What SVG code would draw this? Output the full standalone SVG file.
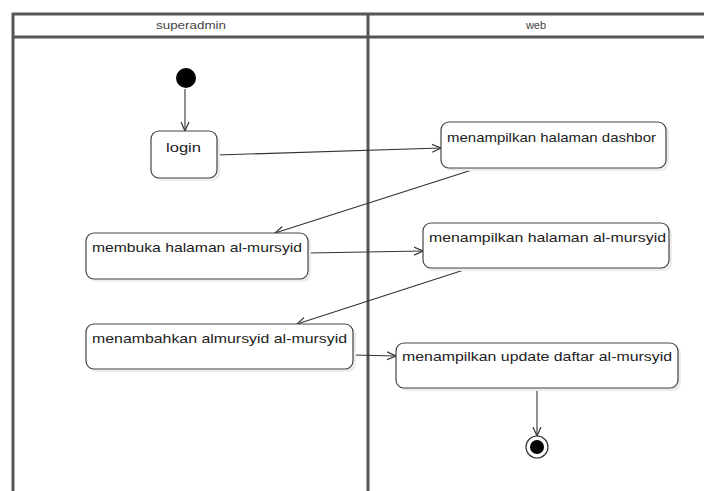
<svg xmlns="http://www.w3.org/2000/svg" width="704" height="491" viewBox="0 0 704 491">
<style>
.lane{stroke:#555;stroke-width:3;fill:none}
.box{fill:#fff;stroke:#444;stroke-width:1.2}
.shadow{fill:#ececec;stroke:none}
.t{font-family:"Liberation Sans",Arial,sans-serif;font-size:13px;fill:#222}
.h{font-family:"Liberation Sans",Arial,sans-serif;font-size:11px;fill:#444;text-anchor:middle}
.c{stroke:#333;stroke-width:1.1;fill:none;marker-end:url(#arr)}
</style>
<defs>
<marker id="arr" viewBox="0 0 10 10" refX="9" refY="5" markerWidth="10" markerHeight="10" markerUnits="userSpaceOnUse" orient="auto">
<path d="M0,1 L9,5 L0,9" fill="none" stroke="#333" stroke-width="1.2"/>
</marker>
</defs>
<rect width="704" height="491" fill="#fff"/>
<g id="swimlanes">
<path class="lane" d="M706,14 H13 V491"/>
<path class="lane" d="M13,37 H706"/>
<path class="lane" d="M368,13 V491"/>
<text class="h" x="191" y="29" textLength="70" lengthAdjust="spacingAndGlyphs">superadmin</text>
<text class="h" x="536" y="29">web</text>
</g>
<g id="connectors">
<path class="c" d="M185,89 L185,131"/>
<path class="c" d="M217,155 L441,148"/>
<path class="c" d="M475,169 L275,233"/>
<path class="c" d="M308,253 L423,251"/>
<path class="c" d="M470,268 L297,324"/>
<path class="c" d="M353,355 L396,356"/>
<path class="c" d="M537,388 L537,436"/>
</g>
<g id="start">
<circle cx="186" cy="78" r="10" fill="#000"/>
</g>
<g id="login">
<rect class="shadow" x="154" y="134" width="66" height="47" rx="8"/>
<rect class="box" x="151" y="131" width="66" height="47" rx="8"/>
<text class="t" x="166" y="152" textLength="35" lengthAdjust="spacingAndGlyphs">login</text>
</g>
<g id="dashbor">
<rect class="shadow" x="444" y="125" width="225" height="46" rx="8"/>
<rect class="box" x="441" y="122" width="225" height="46" rx="8"/>
<text class="t" x="447" y="142" textLength="209" lengthAdjust="spacingAndGlyphs">menampilkan halaman dashbor</text>
</g>
<g id="membuka">
<rect class="shadow" x="89" y="236" width="222" height="46" rx="8"/>
<rect class="box" x="86" y="233" width="222" height="46" rx="8"/>
<text class="t" x="92" y="252" textLength="210" lengthAdjust="spacingAndGlyphs">membuka halaman al-mursyid</text>
</g>
<g id="tampil-mursyid">
<rect class="shadow" x="426" y="226" width="246" height="45" rx="8"/>
<rect class="box" x="423" y="223" width="246" height="45" rx="8"/>
<text class="t" x="429" y="242" textLength="237" lengthAdjust="spacingAndGlyphs">menampilkan halaman al-mursyid</text>
</g>
<g id="menambahkan">
<rect class="shadow" x="89" y="327" width="267" height="45" rx="8"/>
<rect class="box" x="86" y="324" width="267" height="45" rx="8"/>
<text class="t" x="92" y="343" textLength="255" lengthAdjust="spacingAndGlyphs">menambahkan almursyid al-mursyid</text>
</g>
<g id="update">
<rect class="shadow" x="399" y="346" width="282" height="45" rx="8"/>
<rect class="box" x="396" y="343" width="282" height="45" rx="8"/>
<text class="t" x="402" y="361" textLength="270" lengthAdjust="spacingAndGlyphs">menampilkan update daftar al-mursyid</text>
</g>
<g id="end">
<circle cx="537" cy="447" r="11" fill="#fff" stroke="#333" stroke-width="1.2"/>
<circle cx="537" cy="447" r="7" fill="#000"/>
</g>
</svg>
